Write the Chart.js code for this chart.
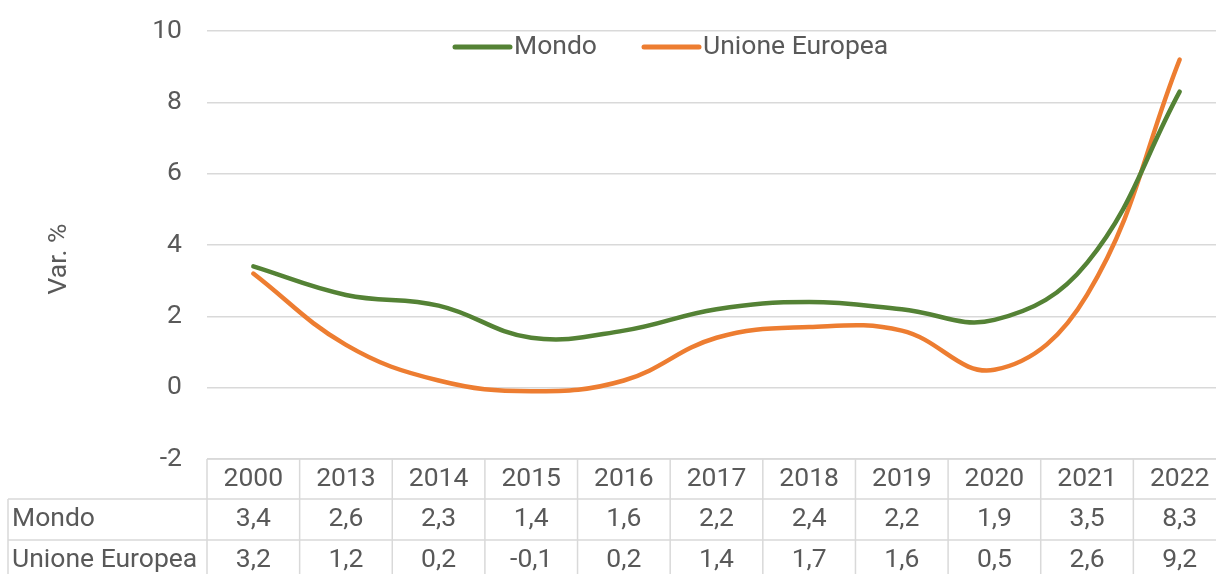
<!DOCTYPE html>
<html>
<head>
<meta charset="utf-8">
<script src="https://cdn.jsdelivr.net/npm/chart.js@4.4.1/dist/chart.umd.min.js"></script>
<style>
  html, body { margin: 0; padding: 0; background: #fff; overflow: hidden; }
  #wrap { position: relative; width: 1228px; height: 574px; }
</style>
</head>
<body>
<div id="wrap"><canvas id="c" width="1228" height="574" style="width:1228px;height:574px"></canvas></div>
<script>
const categories = ['2000', '2013', '2014', '2015', '2016', '2017', '2018', '2019', '2020', '2021', '2022'];
const mondo = [3.4, 2.6, 2.3, 1.4, 1.6, 2.2, 2.4, 2.2, 1.9, 3.5, 8.3];
const unioneEuropea = [3.2, 1.2, 0.2, -0.1, 0.2, 1.4, 1.7, 1.6, 0.5, 2.6, 9.2];
const seriesNames = ['Mondo', 'Unione Europea'];
const yTicks = [-2, 0, 2, 4, 6, 8, 10];
const yTitle = 'Var. %';

const TEXT = '#595959';
const GRID = '#d9d9d9';
const FONT = 'Roboto, "Open Sans", sans-serif';
const FS = 26.5;

const fmt = v => String(v).replace('.', ',');

const tablePlugin = {
  id: 'dataTable',
  afterDraw(chart) {
    const ctx = chart.ctx;
    const xs = chart.scales.x;
    const area = chart.chartArea;
    const n = categories.length;
    const colW = (area.right - area.left) / n;
    const top = area.bottom;
    const rowH = [40, 41, 41];
    const labelLeft = 8;
    ctx.save();
    ctx.strokeStyle = GRID;
    ctx.lineWidth = 1.5;
    const y0 = top, y1 = top + rowH[0], y2 = y1 + rowH[1], y3 = y2 + rowH[2];
    ctx.beginPath();
    ctx.moveTo(area.left, y0); ctx.lineTo(area.right, y0);
    ctx.moveTo(labelLeft, y1); ctx.lineTo(area.right, y1);
    ctx.moveTo(labelLeft, y2); ctx.lineTo(area.right, y2);
    ctx.moveTo(labelLeft, y3); ctx.lineTo(area.right, y3);
    for (let i = 0; i <= n; i++) {
      const x = area.left + i * colW;
      ctx.moveTo(x, y0); ctx.lineTo(x, y3);
    }
    ctx.moveTo(labelLeft, y1); ctx.lineTo(labelLeft, y3);
    ctx.stroke();
    ctx.fillStyle = TEXT;
    ctx.font = FS + 'px ' + FONT;
    ctx.textBaseline = 'middle';
    ctx.textAlign = 'center';
    const rows = [mondo, unioneEuropea];
    categories.forEach((c, i) => {
      const x = xs.getPixelForValue(i);
      ctx.fillText(c, x, (y0 + y1) / 2);
      ctx.fillText(fmt(rows[0][i]), x, (y1 + y2) / 2);
      ctx.fillText(fmt(rows[1][i]), x, (y2 + y3) / 2);
    });
    ctx.textAlign = 'left';
    ctx.fillText(seriesNames[0], labelLeft + 4, (y1 + y2) / 2);
    ctx.fillText(seriesNames[1], labelLeft + 4, (y2 + y3) / 2);

    ctx.save();
    ctx.translate(59, 259);
    ctx.rotate(-Math.PI / 2);
    ctx.textAlign = 'center';
    ctx.textBaseline = 'middle';
    ctx.fillText(yTitle, 0, 0);
    ctx.restore();

    const items = chart.data.datasets.map(d => ({ label: d.label, color: d.borderColor }));
    const lxs = [455, 644];
    const ly = 47;
    items.forEach((it, k) => {
      const lx = lxs[k];
      ctx.strokeStyle = it.color;
      ctx.lineWidth = 5;
      ctx.lineCap = 'round';
      ctx.beginPath();
      ctx.moveTo(lx, ly); ctx.lineTo(lx + 55, ly);
      ctx.stroke();
      ctx.fillStyle = TEXT;
      ctx.textAlign = 'left';
      ctx.textBaseline = 'middle';
      ctx.fillText(it.label, lx + 59, ly);
    });
    ctx.restore();
  }
};

new Chart(document.getElementById('c'), {
  type: 'line',
  data: {
    labels: categories,
    datasets: [
      { label: seriesNames[0], data: mondo, borderColor: '#548235', backgroundColor: '#548235',
        borderWidth: 4.5, pointRadius: 0, tension: 0.4, borderCapStyle: 'round', fill: false },
      { label: seriesNames[1], data: unioneEuropea, borderColor: '#ED7D31', backgroundColor: '#ED7D31',
        borderWidth: 4.5, pointRadius: 0, tension: 0.4, borderCapStyle: 'round', fill: false }
    ]
  },
  options: {
    responsive: false,
    animation: false,
    devicePixelRatio: 1,
    layout: { padding: { top: 31, bottom: 115, left: 0, right: 2 } },
    plugins: { legend: { display: false }, tooltip: { enabled: false } },
    scales: {
      x: {
        type: 'category',
        offset: true,
        display: false,
        grid: { display: false }
      },
      y: {
        min: -2, max: 10,
        afterBuildTicks(scale) { scale.ticks = yTicks.map(v => ({ value: v })); },
        afterFit(scale) { scale.width = 207; scale.paddingTop = 0; scale.paddingBottom = 0; },
        border: { display: false },
        grid: { color: GRID, lineWidth: 1.5, drawTicks: false },
        ticks: { color: TEXT, font: { family: FONT, size: FS }, padding: 25 }
      }
    }
  },
  plugins: [tablePlugin]
});
</script>
</body>
</html>
